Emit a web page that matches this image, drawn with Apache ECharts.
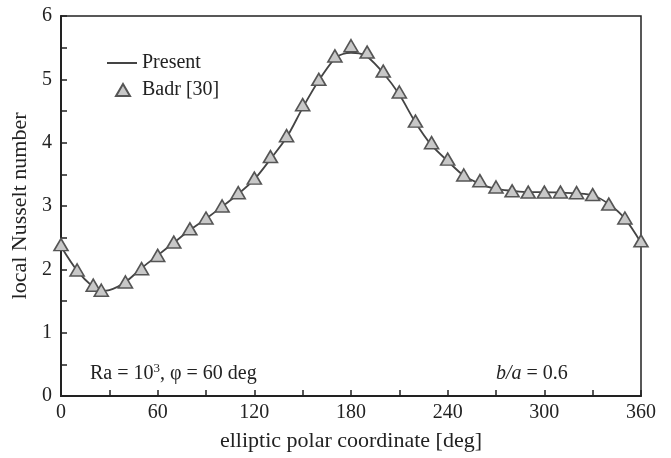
<!DOCTYPE html>
<html>
<head>
<meta charset="utf-8">
<script src="https://cdn.jsdelivr.net/npm/echarts@6/dist/echarts.min.js"></script>
<style>html,body{margin:0;padding:0;background:#fff;}#c{width:671px;height:458px;}</style>
</head>
<body>
<div id="c"></div>
<script>
// Present (line) – angle [deg] and local Nusselt number
var presentAngle = [0,10,20,25,30,40,50,60,70,80,90,100,110,120,130,140,150,160,170,175,180,185,190,200,210,220,230,240,250,260,270,280,290,300,310,320,330,340,350,360];
var presentNu    = [2.36,1.98,1.72,1.66,1.67,1.80,2.02,2.22,2.42,2.62,2.80,2.99,3.19,3.42,3.74,4.08,4.55,4.98,5.33,5.40,5.42,5.41,5.36,5.10,4.76,4.32,3.96,3.71,3.48,3.35,3.27,3.24,3.22,3.22,3.21,3.20,3.17,3.03,2.80,2.42];
// Badr [30] (triangles)
var badrAngle = [0,10,20,25,40,50,60,70,80,90,100,110,120,130,140,150,160,170,180,190,200,210,220,230,240,250,260,270,280,290,300,310,320,330,340,350,360];
var badrNu    = [2.39,1.99,1.75,1.67,1.80,2.01,2.22,2.43,2.64,2.81,3.00,3.21,3.44,3.78,4.11,4.60,5.00,5.37,5.53,5.43,5.13,4.80,4.34,4.00,3.74,3.49,3.40,3.30,3.24,3.22,3.22,3.22,3.21,3.18,3.03,2.81,2.45];
var xTicks = [0,60,120,180,240,300,360];
var yTicks = [0,1,2,3,4,5,6];

var font = '"Liberation Serif", "DejaVu Serif", serif';
var chart = echarts.init(document.getElementById('c'));
function pairs(a, b) { return a.map(function (v, i) { return [v, b[i]]; }); }

chart.setOption({
  animation: false,
  backgroundColor: '#fff',
  grid: { left: 61, right: 30, top: 16, bottom: 62, show: true, borderColor: '#222', borderWidth: 1.5, backgroundColor: 'transparent' },
  xAxis: {
    type: 'value', min: xTicks[0], max: xTicks[xTicks.length - 1], interval: 60,
    name: 'elliptic polar coordinate [deg]', nameLocation: 'middle', nameGap: 34,
    nameTextStyle: { fontFamily: font, fontSize: 22, color: '#222' },
    axisLine: { lineStyle: { color: '#222', width: 2 } },
    axisTick: { inside: true, length: 6, lineStyle: { color: '#222', width: 1.5 } },
    minorTick: { show: true, splitNumber: 2, length: 6, lineStyle: { color: '#222', width: 1.5 } },
    axisLabel: { fontFamily: font, fontSize: 20, color: '#222', margin: 7 },
    splitLine: { show: false }
  },
  yAxis: {
    type: 'value', min: yTicks[0], max: yTicks[yTicks.length - 1], interval: 1,
    name: 'local Nusselt number', nameLocation: 'middle', nameGap: 27,
    nameTextStyle: { fontFamily: font, fontSize: 22, color: '#222' },
    axisLine: { show: true, lineStyle: { color: '#222', width: 2 } },
    axisTick: { show: true, inside: true, length: 6, lineStyle: { color: '#222', width: 1.5 } },
    minorTick: { show: true, splitNumber: 2, length: 6, lineStyle: { color: '#222', width: 1.5 } },
    axisLabel: { fontFamily: font, fontSize: 20, color: '#222', margin: 9 },
    splitLine: { show: false }
  },
  legend: [
    {
      left: 102, top: 48, itemWidth: 30, itemHeight: 2,
      textStyle: { fontFamily: font, fontSize: 20, color: '#222' },
      data: [{ name: 'Present', icon: 'rect', itemStyle: { color: '#444' } }]
    },
    {
      left: 110, top: 75, itemWidth: 14, itemHeight: 12,
      textStyle: { fontFamily: font, fontSize: 20, color: '#222', padding: [0, 0, 0, 7] },
      data: [{ name: 'Badr [30]', icon: 'triangle' }]
    }
  ],
  series: [
    {
      name: 'Present', type: 'line', smooth: 0.3, symbol: 'none',
      data: pairs(presentAngle, presentNu),
      lineStyle: { color: '#444', width: 1.8 }, itemStyle: { color: '#444' }, z: 2
    },
    {
      name: 'Badr [30]', type: 'scatter', symbol: 'triangle', symbolSize: [14, 12],
      data: pairs(badrAngle, badrNu),
      itemStyle: { color: '#c8c8c8', borderColor: '#555', borderWidth: 1.6, opacity: 1 }, z: 3
    }
  ],
  graphic: [
    { type: 'text', left: 90, top: 362, style: {
      text: 'Ra = 10{sup|3}, φ = 60 deg', font: '20px ' + font, fill: '#222',
      rich: { sup: { fontSize: 13, fontFamily: font, verticalAlign: 'top', padding: [0, 0, 10, 0], fill: '#222' } }
    } },
    { type: 'text', left: 496, top: 364, style: {
      text: '{i|b/a} = 0.6', font: '20px ' + font, fill: '#222',
      rich: { i: { fontStyle: 'italic', fontSize: 20, fontFamily: font, fill: '#222' } }
    } }
  ]
});
</script>
</body>
</html>
